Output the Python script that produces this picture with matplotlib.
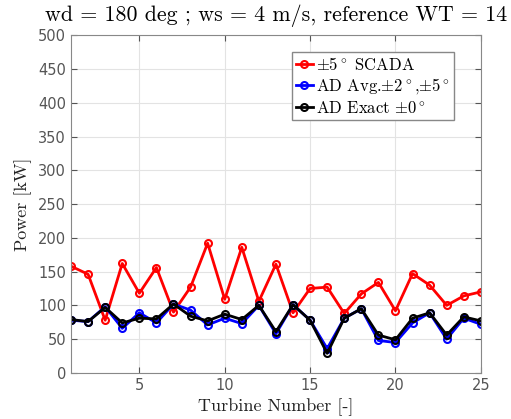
import matplotlib
matplotlib.use('Agg')
import matplotlib.pyplot as plt
import numpy as np

# turbine numbers and power (kW)
turbine = np.arange(1, 26)
scada = [158, 146, 78, 162, 118, 156, 90, 127, 192, 109, 186, 106, 161,
         89, 125, 127, 88, 117, 134, 92, 147, 130, 100, 114, 120]
ad_avg = [78, 76, 98, 66, 89, 74, 102, 93, 71, 81, 73, 100, 58,
          101, 78, 36, 81, 95, 48, 45, 74, 89, 50, 81, 72]
ad_exact = [79, 76, 97, 74, 81, 80, 102, 84, 77, 87, 79, 100, 61,
            101, 78, 29, 81, 95, 56, 49, 81, 89, 56, 83, 77]

plt.rcParams['mathtext.fontset'] = 'cm'
serif = ['cmr10', 'DejaVu Serif']

fig = plt.figure(figsize=(5.11, 4.19), dpi=100)
ax = fig.add_axes([0.139, 0.110, 0.802, 0.806])

ax.plot(turbine, scada, '-o', color='red', lw=2, ms=5, mfc='none', mew=1.5,
        label=r'$\pm5^\circ$ SCADA')
ax.plot(turbine, ad_avg, '-o', color='blue', lw=2, ms=5, mfc='none', mew=1.5,
        label=r'AD Avg.$\pm2^\circ$,$\pm5^\circ$')
ax.plot(turbine, ad_exact, '-o', color='black', lw=2, ms=5, mfc='none', mew=1.5,
        label=r'AD Exact $\pm0^\circ$')

ax.set_xlim(1, 25)
ax.set_ylim(0, 500)
ax.set_xticks([5, 10, 15, 20, 25])
ax.set_yticks(np.arange(0, 501, 50))
ax.grid(True, color='#e3e3e3', lw=0.8)
ax.tick_params(direction='in', colors='#555555', labelsize=10.5, length=4,
               top=True, right=True)
for s in ax.spines.values():
    s.set_color('#888888')

ax.set_xlabel('Turbine Number [-]', family=serif, fontsize=13, color='#222222')
ax.set_ylabel('Power [kW]', family=serif, fontsize=13, color='#222222')
ax.set_title('wd = 180 deg ; ws = 4 m/s, reference WT = 14', family=serif,
             fontsize=15.8, pad=10)

leg = ax.legend(loc='upper right', bbox_to_anchor=(0.955, 0.975),
                prop={'family': serif, 'size': 12}, handlelength=1.0,
                handletextpad=0.2, borderpad=0.25, labelspacing=0.2,
                fancybox=False, framealpha=1, edgecolor='#888888')

plt.savefig('out.png', dpi=100)
